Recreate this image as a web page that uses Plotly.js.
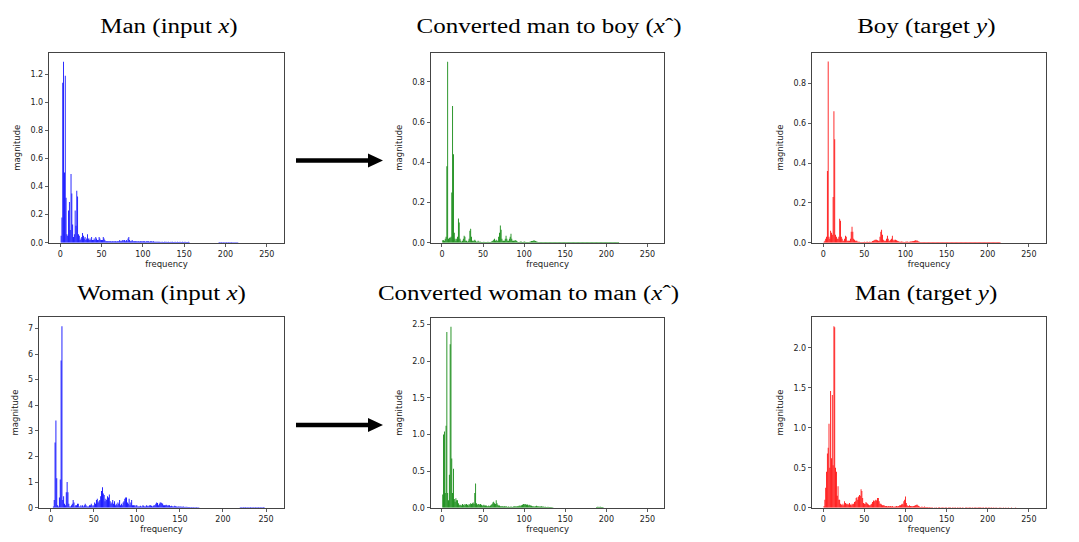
<!DOCTYPE html>
<html>
<head>
<meta charset="utf-8">
<script src="https://cdn.plot.ly/plotly-3.0.1.min.js"></script>
<style>
html,body{margin:0;padding:0;background:#fff;}
#chart{width:1079px;height:542px;}
</style>
</head>
<body>
<div id="chart"></div>
<script>
// ---------- DATA (magnitude per frequency bin, starting at bin 0) ----------
var manInput = [
0,0.05,0.18,1.14,1.29,0.50,1.19,0.32,0.06,0.05,
0.23,0.29,0.09,0.49,0.35,0.13,0.04,0.06,0.23,0.12,
0.37,0.33,0.06,0.05,0.02,0.03,0.04,0.07,0.05,0.03,
0.04,0.02,0.03,0.06,0.03,0.02,0.03,0.02,0.04,0.02,
0.02,0.03,0.02,0.04,0.03,0.02,0.02,0.04,0.03,0.02,
0.02,0.02,0.04,0.03,0.02,0.01,0.01,0.01,0.01,0.01,
0.01,0.01,0.008,0.01,0.01,0.008,0.01,0.01,0.008,0.01,
0.01,0.01,0.02,0.01,0.01,0.02,0.01,0.02,0.02,0.01,
0.02,0.01,0.03,0.04,0.02,0.01,0.01,0.02,0.01,0.01,
0.01,0.01,0.01,0.008,0.01,0.01,0.008,0.01,0.01,0.008,
0.01,0.01,0.01,0.006,0.01,0.01,0.01,0.01,0.006,0.01,
0.01,0.01,0.006,0.01,0.006,0.006,0.006,0.006,0.006,0.006,
0.006,0.005,0.006,0.005,0.006,0.005,0.006,0.006,0.005,0.006,
0.005,0.006,0.005,0.005,0.006,0.005,0.006,0.005,0.005,0.006,
0.005,0.005,0.006,0.005,0.005,0.006,0.005,0.005,0.006,0.005,
0.005,0.006,0.005,0.005,0.005,0.006,0.005,0,0,0,
0,0,0,0,0,0,0,0,0,0,
0,0,0,0,0,0,0,0,0,0,
0,0,0,0,0,0,0,0,0,0,
0,0,0.004,0.005,0.004,0.005,0.004,0.004,0.005,0.004,
0.004,0.005,0.004,0.004,0.005,0.004,0.004,0.005,0.004,0.004,
0.004,0.004,0.004,0.004,0.004,0.004
];
var convManBoy = [
0,0.012,0.012,0.01,0.02,0.03,0.38,0.90,0.02,0.025,
0.025,0.03,0.25,0.68,0.44,0.05,0.02,0.01,0.02,0.03,
0.12,0.10,0.02,0.01,0.005,0.01,0.02,0.035,0.03,0.01,
0.01,0.005,0.01,0.02,0.06,0.07,0.03,0.01,0.01,0.01,
0.015,0.01,0.005,0.005,0.01,0.005,0.005,0.005,0.004,0.004,
0.004,0.005,0.004,0.003,0.004,0.003,0.005,0.004,0.003,0.004,
0.005,0.008,0.01,0.015,0.02,0.01,0.015,0.01,0.01,0.03,
0.05,0.085,0.065,0.02,0.01,0.01,0.01,0.02,0.035,0.02,
0.01,0.01,0.02,0.03,0.045,0.02,0.01,0.01,0.01,0.012,
0.012,0.008,0.005,0.004,0.004,0.005,0.006,0.005,0.004,0.004,
0.006,0.005,0.004,0.004,0.003,0.004,0.004,0.005,0.006,0.008,
0.008,0.01,0.012,0.01,0.008,0.006,0.005,0.004,0.004,0.003,
0.003,0.004,0.003,0.003,0.004,0.003,0.003,0.004,0.003,0.003,
0.003,0.003,0.004,0.003,0.003,0.003,0.004,0.003,0.003,0.003,
0.003,0.004,0.003,0.003,0.003,0.003,0.004,0.003,0.003,0.003,
0.003,0.003,0.003,0.004,0.003,0.003,0.003,0.003,0.003,0.003,
0.003,0.003,0.004,0.003,0.003,0.003,0.003,0.003,0.003,0.003,
0.003,0.003,0.003,0.003,0.003,0.003,0.003,0.003,0.003,0.003,
0.003,0.003,0.003,0.003,0.003,0.003,0.003,0.003,0.003,0.003,
0.003,0.003,0.003,0.003,0.003,0.003,0.003,0.003,0.003,0.003,
0.003,0.003,0.003,0.003,0.003,0.003,0.003,0.003,0.003,0.003,
0.003,0.003,0.003,0.003,0.003,0.003
];
var boyTarget = [
0,0.005,0.01,0.02,0.03,0.36,0.91,0.03,0.02,0.06,
0.05,0.04,0.23,0.66,0.52,0.04,0.03,0.02,0.02,0.03,
0.12,0.11,0.03,0.02,0.01,0.01,0.02,0.035,0.03,0.01,
0.01,0.01,0.01,0.02,0.055,0.08,0.055,0.02,0.015,0.01,
0.01,0.01,0.005,0.005,0.005,0.004,0.004,0.004,0.004,0.004,
0.005,0.004,0.004,0.005,0.005,0.004,0.005,0.005,0.004,0.005,
0.008,0.01,0.012,0.015,0.015,0.015,0.012,0.01,0.01,0.03,
0.055,0.065,0.04,0.015,0.01,0.01,0.01,0.02,0.035,0.02,
0.01,0.01,0.015,0.02,0.035,0.015,0.01,0.015,0.015,0.012,
0.01,0.008,0.006,0.005,0.005,0.006,0.005,0.005,0.004,0.004,
0.005,0.005,0.006,0.005,0.004,0.005,0.006,0.006,0.007,0.008,
0.008,0.01,0.012,0.01,0.012,0.008,0.006,0.005,0.004,0.004,
0.003,0.004,0.003,0.003,0.004,0.003,0.003,0.004,0.003,0.003,
0.003,0.003,0.004,0.003,0.003,0.003,0.004,0.003,0.003,0.003,
0.003,0.004,0.003,0.003,0.003,0.003,0.004,0.003,0.003,0.003,
0.003,0.003,0.003,0.004,0.003,0.003,0.003,0.003,0.003,0.003,
0.003,0.003,0.004,0.003,0.003,0.003,0.003,0.003,0.003,0.003,
0.003,0.003,0.003,0.003,0.003,0.003,0.003,0.003,0.003,0.003,
0.003,0.003,0.003,0.003,0.003,0.003,0.003,0.003,0.003,0.003,
0.003,0.003,0.003,0.003,0.003,0.003,0.003,0.003,0.003,0.003,
0.003,0.003,0.003,0.003,0.003,0.003,0.003,0.003,0.003,0.003,
0.003,0.003,0.003,0.003,0.003,0.003
];
var womanInput = [
0,0,0,0.05,0.3,2.55,3.4,1.15,0.1,0.05,
0.4,1.1,5.75,7.08,0.3,0.45,0.15,0.1,0.6,1.0,
0.6,0.15,0.05,0.05,0.1,0.15,0.3,0.2,0.05,0.1,
0.1,0.15,0.15,0.05,0.05,0.1,0.05,0.1,0.05,0.1,
0.15,0.1,0.05,0.05,0.05,0.1,0.1,0.15,0.1,0.05,
0.1,0.2,0.15,0.3,0.35,0.2,0.25,0.3,0.45,0.65,
0.8,0.55,0.5,0.25,0.35,0.3,0.45,0.4,0.52,0.25,
0.15,0.2,0.3,0.15,0.25,0.1,0.15,0.1,0.2,0.15,
0.3,0.1,0.15,0.1,0.2,0.25,0.35,0.4,0.4,0.2,
0.15,0.35,0.1,0.2,0.3,0.1,0.1,0.1,0.05,0.1,
0.1,0.05,0.05,0.05,0.08,0.05,0.05,0.1,0.08,0.05,
0.05,0.1,0.08,0.05,0.08,0.1,0.1,0.08,0.05,0.08,
0.1,0.1,0.15,0.2,0.18,0.1,0.15,0.2,0.2,0.18,
0.15,0.1,0.1,0.1,0.12,0.1,0.08,0.1,0.1,0.06,
0.08,0.06,0.05,0.05,0.08,0.06,0.05,0.04,0.05,0.05,
0.04,0.05,0.04,0.04,0.05,0.03,0.04,0.03,0.04,0.03,
0.03,0.03,0.02,0.03,0.03,0.02,0.03,0.02,0.02,0.03,
0.02,0.02,0.02,0,0,0,0,0,0,0,
0,0,0,0,0,0,0,0,0,0,
0,0,0,0,0,0,0,0,0,0,
0,0,0,0,0,0,0,0,0,0,
0,0,0,0,0,0,0,0,0,0,
0.02,0.03,0.02,0.02,0.03,0.02,0.03,0.02,0.02,0.03,
0.02,0.02,0.03,0.02,0.02,0.03,0.02,0.02,0.03,0.02,
0.02,0.03,0.02,0.02,0.03,0.02,0.02,0.03,0.02
];
var convWomanMan = [
0,0.18,1.0,1.04,0.2,1.12,2.4,0.2,0.1,0.45,
2.23,2.47,0.67,0.2,0.53,0.12,0.08,0.13,0.1,0.1,
0.06,0.04,0.03,0.04,0.03,0.05,0.04,0.03,0.05,0.04,
0.05,0.04,0.03,0.05,0.04,0.06,0.05,0.06,0.07,0.05,
0.2,0.33,0.06,0.04,0.05,0.05,0.04,0.05,0.04,0.03,
0.03,0.04,0.03,0.03,0.03,0.02,0.02,0.03,0.02,0.03,
0.04,0.05,0.07,0.08,0.06,0.05,0.1,0.06,0.04,0.03,
0.03,0.02,0.02,0.02,0.02,0.015,0.02,0.015,0.02,0.015,
0.01,0.015,0.01,0.015,0.01,0.015,0.01,0.015,0.02,0.015,
0.02,0.015,0.02,0.02,0.03,0.02,0.03,0.035,0.04,0.05,
0.05,0.04,0.05,0.04,0.045,0.03,0.04,0.035,0.03,0.025,
0.02,0.02,0.015,0.015,0.02,0.025,0.02,0.02,0.015,0.015,
0.015,0.02,0.015,0.012,0.015,0.01,0.012,0.01,0.01,0.012,
0.01,0.008,0.01,0.008,0.006,0.005,0,0,0,0,
0,0,0,0,0,0,0,0,0,0,
0,0,0,0,0,0,0,0,0,0,
0,0,0,0,0,0,0,0,0,0,
0,0,0,0,0,0,0,0,0,0,
0,0,0,0,0,0,0,0,0.01,0.012,
0.01,0.012,0.01,0.012,0.01,0.01,0.008
];
var manTarget = [
0,0.02,0.1,0.25,0.45,0.68,0.75,1.05,0.5,1.46,
0.62,1.41,0.53,2.27,2.26,0.5,0.45,0.15,0.27,0.1,
0.1,0.05,0.04,0.03,0.05,0.03,0.08,0.06,0.05,0.04,
0.05,0.04,0.06,0.04,0.03,0.05,0.04,0.05,0.07,0.08,
0.12,0.13,0.1,0.14,0.16,0.15,0.23,0.21,0.12,0.06,
0.05,0.05,0.07,0.06,0.05,0.04,0.03,0.03,0.04,0.05,
0.07,0.09,0.08,0.09,0.1,0.09,0.12,0.12,0.08,0.05,
0.05,0.04,0.03,0.03,0.03,0.02,0.02,0.02,0.015,0.02,
0.02,0.015,0.02,0.015,0.02,0.015,0.01,0.015,0.015,0.02,
0.015,0.02,0.02,0.03,0.03,0.04,0.05,0.04,0.08,0.1,
0.14,0.06,0.03,0.02,0.02,0.03,0.02,0.02,0.015,0.02,
0.02,0.025,0.03,0.035,0.04,0.03,0.02,0.015,0.01,0.01,
0.015,0.01,0.01,0.015,0.01,0.008,0.01,0.008,0.006,0.008,
0.006,0.005,0.006,0.005,0,0.005,0,0.006,0.005,0,
0.006,0.008,0.006,0,0.005,0.006,0.005,0,0.006,0.005,
0.006,0,0.005,0.006,0.005,0.006,0,0.005,0.006,0,
0.005,0.006,0,0.006,0.005,0,0.006,0.005,0,0.006,
0.005,0,0,0.006,0.005,0.006,0,0.005,0.006,0.005,
0,0.006,0.005,0,0.006,0.005,0.006,0,0.005,0.006,
0.005,0.006,0.005,0,0.006,0.005,0,0.006,0.005,0.006,
0,0.005,0.006,0,0.005,0.006,0,0.005,0,0.006,
0,0.005,0,0,0.006,0,0.005,0,0,0.006,
0,0,0.005,0,0,0.006,0,0,0,0.005,
0,0,0,0,0.006
];

var panelTitles = [
  'Man (input <i>x</i>)',
  'Converted man to boy (<i>x</i>ˆ)',
  'Boy (target <i>y</i>)',
  'Woman (input <i>x</i>)',
  'Converted woman to man (<i>x</i>ˆ)',
  'Man (target <i>y</i>)'
];
var series = [manInput, convManBoy, boyTarget, womanInput, convWomanMan, manTarget];
var colors = ['#0000ff', '#008000', '#ff0000', '#0000ff', '#008000', '#ff0000'];
var yDticks = [0.2, 0.2, 0.2, 1, 0.5, 0.5];
var yFormats = ['.1f', '.1f', '.1f', 'd', '.1f', '.1f'];
var xTicks = [0, 50, 100, 150, 200, 250];

// ---------- LAYOUT (pixel boxes of each panel) ----------
var W = 1079, H = 542;
var boxes = [
  [49.3, 283.7, 52.7, 242.7],
  [431, 664.3, 52.7, 242.7],
  [812.3, 1045.7, 52.5, 242.7],
  [39.3, 283.7, 317.3, 507.7],
  [431, 664.3, 317.7, 507.7],
  [812.3, 1045.7, 317.3, 507.7]
];
var titlePos = [[169, 27], [549, 27], [926, 27], [161, 293], [528, 293], [926, 293]];

function px(x) { return x / W; }
function py(y) { return 1 - y / H; }

var traces = [];
var layout = {
  width: W, height: H,
  margin: {l: 0, r: 0, t: 0, b: 0},
  paper_bgcolor: '#ffffff',
  plot_bgcolor: '#ffffff',
  showlegend: false,
  bargap: 0.2,
  font: {family: 'DejaVu Sans', color: '#222'},
  annotations: [],
  shapes: []
};

series.forEach(function (vals, i) {
  var n = i + 1;
  var xs = vals.map(function (v, k) { return k; });
  traces.push({
    type: 'bar',
    x: xs,
    y: vals,
    width: 1,
    xaxis: 'x' + n,
    yaxis: 'y' + n,
    marker: {color: colors[i], line: {width: 0, color: colors[i]}},
    hoverinfo: 'x+y'
  });
  var b = boxes[i];
  var ymax = Math.max.apply(null, vals) * 1.05;
  layout['xaxis' + n] = {
    domain: [px(b[0]), px(b[1])],
    anchor: 'y' + n,
    range: [-13.3, 270.5],
    tickvals: xTicks,
    ticks: 'outside', ticklen: 3.5, tickwidth: 0.8, tickcolor: '#333',
    tickfont: {size: 8, family: 'DejaVu Sans', color: '#222'},
    showline: true, linecolor: '#444', linewidth: 1, mirror: true,
    showgrid: false, zeroline: false,
    title: {text: 'frequency', font: {size: 8.5, family: 'DejaVu Sans', color: '#222'}, standoff: 3}
  };
  layout['yaxis' + n] = {
    domain: [py(b[3]), py(b[2])],
    anchor: 'x' + n,
    range: [0, ymax],
    dtick: yDticks[i], tick0: 0,
    tickformat: yFormats[i],
    ticks: 'outside', ticklen: 3.5, tickwidth: 0.8, tickcolor: '#333',
    tickfont: {size: 8, family: 'DejaVu Sans', color: '#222'},
    showline: true, linecolor: '#444', linewidth: 1, mirror: true,
    showgrid: false, zeroline: false,
    title: {text: 'magnitude', font: {size: 8.5, family: 'DejaVu Sans', color: '#222'}, standoff: 8}
  };
  layout.annotations.push({
    xref: 'paper', yref: 'paper',
    x: px(titlePos[i][0]), y: py(titlePos[i][1]),
    xanchor: 'center', yanchor: 'middle',
    text: panelTitles[i], showarrow: false,
    font: {family: 'Liberation Serif', size: 20, color: '#000'}
  });
});

// arrows between input and converted panels
[160.5, 425].forEach(function (ay) {
  layout.shapes.push({
    type: 'line', xref: 'paper', yref: 'paper',
    x0: px(296), x1: px(371), y0: py(ay), y1: py(ay),
    line: {color: '#000', width: 4.5}
  });
  layout.shapes.push({
    type: 'path', xref: 'paper', yref: 'paper',
    path: 'M ' + px(368) + ' ' + py(ay - 7) + ' L ' + px(383) + ' ' + py(ay) +
          ' L ' + px(368) + ' ' + py(ay + 7) + ' Z',
    fillcolor: '#000', line: {color: '#000', width: 0}
  });
});

Plotly.newPlot('chart', traces, layout, {staticPlot: true}).then(function (gd) {
  // the reference titles are set wider than their height: stretch them horizontally
  var texts = gd.querySelectorAll('text.annotation-text');
  texts.forEach(function (t) {
    var bb = t.getBBox();
    var cx = bb.x + bb.width / 2;
    t.setAttribute('transform',
      'translate(' + cx + ',0) scale(1.25,1) translate(' + (-cx) + ',0)');
  });
});
</script>
</body>
</html>
